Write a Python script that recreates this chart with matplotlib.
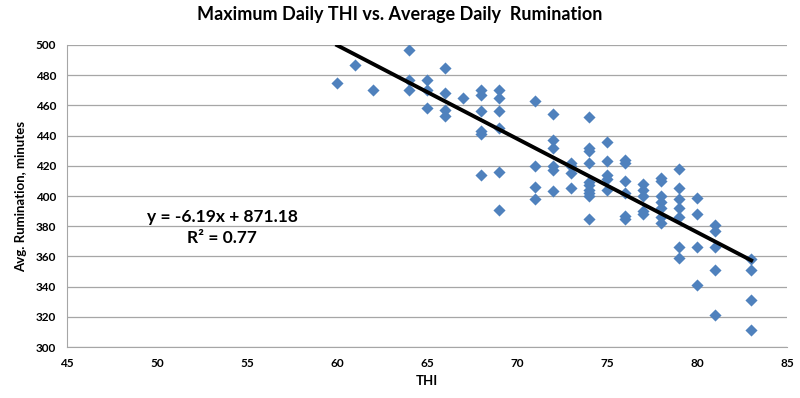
import numpy as np
import matplotlib
matplotlib.use("Agg")
import matplotlib.pyplot as plt

plt.rcParams['font.family'] = ['Lato', 'DejaVu Sans']

# THI values and average rumination (minutes)
thi = [60, 61, 62,
       64, 64, 64,
       65, 65, 65,
       66, 66, 66, 66,
       67,
       68, 68, 68, 68, 68, 68,
       69, 69, 69, 69, 69, 69,
       71, 71, 71, 71,
       72, 72, 72, 72, 72, 72,
       73, 73, 73, 73,
       74, 74, 74, 74, 74, 74, 74, 74, 74, 74,
       75, 75, 75, 75, 75,
       76, 76, 76, 76, 76, 76,
       77, 77, 77, 77, 77,
       78, 78, 78, 78, 78, 78, 78,
       79, 79, 79, 79, 79, 79, 79,
       80, 80, 80, 80,
       81, 81, 81, 81, 81,
       83, 83, 83, 83]
rumination = [475, 487, 470,
              497, 477, 470,
              477, 470, 458,
              485, 468, 457, 453,
              465,
              470, 467, 456, 443, 441, 414,
              470, 465, 456, 445, 416, 391,
              463, 420, 406, 398,
              454, 437, 432, 420, 417, 403,
              422, 420, 415, 405,
              452, 432, 430, 422, 409, 407, 404, 402, 400, 385,
              436, 423, 414, 411, 404,
              424, 422, 410, 402, 387, 385,
              408, 404, 400, 390, 388,
              412, 410, 400, 396, 392, 386, 382,
              418, 405, 398, 392, 386, 366, 359,
              399, 388, 366, 341,
              381, 377, 366, 351, 321,
              358, 351, 331, 311]

# trendline as given on the chart
slope = -6.19
intercept = 871.18
r2 = 0.77

fig = plt.figure(figsize=(8, 3.98), dpi=100)
ax = fig.add_axes([0.084, 0.128, 0.9, 0.759])

ax.scatter(thi, rumination, marker='D', s=38, color='#4F81BD', zorder=3, linewidths=0)

line_x = np.array([min(thi), max(thi)])
ax.plot(line_x, slope * line_x + intercept, color='black', linewidth=2.8, zorder=4)

ax.set_xlim(45, 85)
ax.set_ylim(300, 500)
ax.set_xticks(range(45, 86, 5))
ax.set_yticks(range(300, 501, 20))
ax.grid(axis='y', color='#a6a6a6', linewidth=0.9)
ax.set_axisbelow(True)
for s in ['top', 'right']:
    ax.spines[s].set_visible(False)
for s in ['left', 'bottom']:
    ax.spines[s].set_color('#a6a6a6')
ax.tick_params(length=0, labelsize=8.5, pad=8)
for lbl in ax.get_xticklabels() + ax.get_yticklabels():
    lbl.set_fontweight('bold')

ax.set_xlabel('THI', fontsize=9.5, fontweight='bold', labelpad=4)
ax.set_ylabel('Avg. Rumination, minutes', fontsize=9.5, fontweight='bold', labelpad=6)
fig.suptitle('Maximum Daily THI vs. Average Daily  Rumination', fontsize=13,
             fontweight='bold', x=0.5, y=0.985)

ax.text(0.215, 0.43, 'y = %.2fx + %.2f' % (slope, intercept), transform=ax.transAxes,
        ha='center', va='center', fontsize=12.5, fontweight='bold')
ax.text(0.215, 0.36, 'R² = %.2f' % r2, transform=ax.transAxes,
        ha='center', va='center', fontsize=12.5, fontweight='bold')

fig.savefig('out.png', dpi=100)
